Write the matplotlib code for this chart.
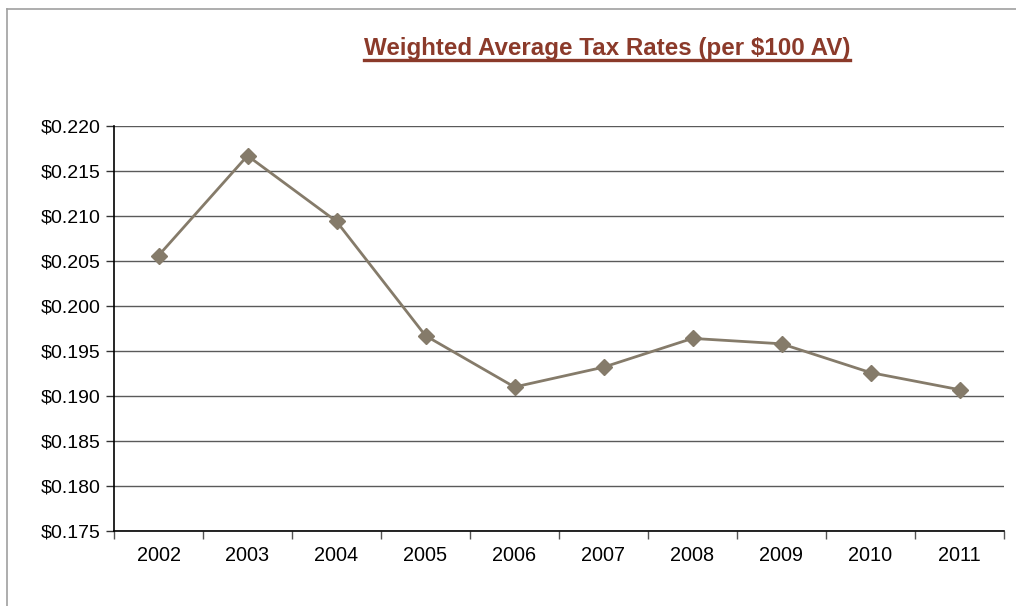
import matplotlib
matplotlib.use("Agg")
import matplotlib.pyplot as plt
from matplotlib.lines import Line2D
from matplotlib.ticker import FuncFormatter, MultipleLocator, FixedLocator

years = ["2002", "2003", "2004", "2005", "2006", "2007", "2008", "2009", "2010", "2011"]
rates = [0.2056, 0.2167, 0.2094, 0.1967, 0.1910, 0.1932, 0.1964, 0.1958, 0.1926, 0.1907]
title = "Weighted Average Tax Rates (per $100 AV)"

plt.rcParams['font.family'] = ['Liberation Sans', 'DejaVu Sans']

fig = plt.figure(figsize=(10.16, 6.06), dpi=100)
W, H = 1016, 606
ax = fig.add_axes([114 / W, 1 - 531 / H, (1004 - 114) / W, (531 - 126) / H])

x = list(range(len(years)))
line_color = "#857B6A"
ax.plot(x, rates, color=line_color, lw=2, marker="D", markersize=8,
        markerfacecolor=line_color, markeredgecolor=line_color, zorder=3)

ax.set_xlim(-0.5, len(years) - 0.5)
ax.set_ylim(0.175, 0.220)
ax.yaxis.set_major_locator(MultipleLocator(0.005))
ax.yaxis.set_major_formatter(FuncFormatter(lambda v, p: f"${v:.3f}"))
ax.grid(axis="y", color="#5a5a5a", lw=1)
ax.set_axisbelow(True)

ax.set_xticks(x)
ax.set_xticklabels(years)
ax.xaxis.set_minor_locator(FixedLocator([i - 0.5 for i in range(len(years) + 1)]))
ax.tick_params(axis="x", which="major", length=0, pad=11, labelsize=14.3)
ax.tick_params(axis="x", which="minor", length=6, color="#555555", width=1)
ax.tick_params(axis="y", length=6, width=1, color="#333333", labelsize=14, pad=4)

for s in ["top", "right"]:
    ax.spines[s].set_visible(False)
ax.spines["left"].set_color("#000000")
ax.spines["bottom"].set_color("#000000")
ax.spines["left"].set_linewidth(1.2)
ax.spines["bottom"].set_linewidth(1.2)

title_color = "#8B3A2A"
t = fig.text(607 / W, 1 - 49 / H, title, ha="center", va="center",
             fontsize=17.4, fontweight="bold", color=title_color)
fig.canvas.draw()
bb = t.get_window_extent(renderer=fig.canvas.get_renderer())
inv = fig.transFigure.inverted()
(x0, y0), (x1, y1) = inv.transform([(bb.x0, bb.y0), (bb.x1, bb.y1)])
fig.add_artist(Line2D([x0, x1], [y0 + 0.001, y0 + 0.001], transform=fig.transFigure,
                      color=title_color, lw=2.4))

# outer chart border (top and left visible)
fig.add_artist(Line2D([7 / W, 7 / W], [0, 1 - 9 / H], transform=fig.transFigure, color="#a0a0a0", lw=1.2))
fig.add_artist(Line2D([7 / W, 1], [1 - 9 / H, 1 - 9 / H], transform=fig.transFigure, color="#a0a0a0", lw=1.2))

fig.savefig("out.png", dpi=100)
